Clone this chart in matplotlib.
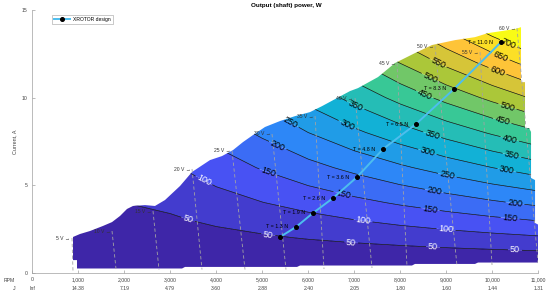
import numpy as np
import matplotlib
matplotlib.use("Agg")
import matplotlib.pyplot as plt
from matplotlib.colors import LinearSegmentedColormap
from matplotlib.patches import Polygon
from matplotlib.transforms import blended_transform_factory

plt.rcParams['font.family'] = ['Liberation Sans', 'DejaVu Sans']

# ---------------- data ----------------
rpm_grid = [0, 1000, 2000, 3000, 4000, 5000, 6000, 7000, 8000, 9000, 10000, 11000]
current_grid = [0, 1, 2, 3, 4, 6, 8, 10, 12, 14, 16]
power_table = [
    [0, -2, -5, -7, -9, -11, -13, -15, -17, -19, -21, -23],
    [0, 4, 8, 10, 13, 17, 20, 23, 26, 29, 32, 35],
    [0, 11, 22, 27, 36, 44, 53, 61, 69, 78, 86, 94],
    [0, 18, 36, 44, 58, 72, 85, 99, 113, 126, 139, 152],
    [0, 25, 50, 60, 80, 99, 118, 137, 156, 174, 193, 211],
    [0, 38, 76, 94, 124, 154, 184, 213, 242, 271, 300, 328],
    [0, 50, 100, 127, 169, 209, 250, 290, 329, 368, 406, 444],
    [0, 62, 124, 161, 213, 265, 316, 366, 416, 465, 513, 561],
    [0, 74, 148, 194, 257, 320, 381, 442, 502, 562, 620, 678],
    [0, 86, 172, 228, 302, 375, 447, 518, 589, 658, 727, 795],
    [0, 98, 196, 261, 346, 430, 513, 595, 675, 755, 834, 912],
]
power_levels = [50, 100, 150, 200, 250, 300, 350, 400, 450, 500, 550, 600, 650, 700]

envelope_rpm = [972, 972, 885, 885, 1037, 1254, 1537, 1733, 1907, 2059, 2189, 2450, 2667,
                2885, 3211, 3472, 3863, 4124, 4363, 4581, 4798, 5059, 5385, 5711, 6037,
                6298, 6580, 6906, 7080, 7515, 7884, 8319, 8689, 9189, 9624, 9906, 10210,
                10493, 10624, 10624, 10711, 10711, 10798, 10842, 10842, 10929, 10929,
                11016, 11016, 9689, 9624, 8319, 8254, 5820, 5755, 3320, 3255]
envelope_current = [0.24, 0.72, 0.72, 2.04, 2.21, 2.38, 2.67, 2.89, 3.24, 3.64, 3.81, 3.86, 3.81,
                    4.15, 4.95, 5.75, 6.43, 6.66, 7.00, 7.46, 7.86, 8.32, 8.66, 8.94, 9.17,
                    9.51, 9.91, 10.37, 10.54, 11.17, 11.97, 12.54, 13.00, 13.28, 13.45, 13.68, 13.80,
                    13.91, 14.02, 10.88, 10.88, 8.26, 8.26, 8.04, 5.41, 5.29, 2.84,
                    2.72, 0.58, 0.58, 0.50, 0.50, 0.41, 0.41, 0.33, 0.33, 0.24]

volt_names = ['5 V', '10 V', '15 V', '20 V', '25 V', '30 V', '35 V', '40 V', '45 V', '50 V', '55 V', '60 V']
volt_top_rpm = [863, 1733, 2624, 3472, 4342, 5211, 6146, 7016, 7929, 8755, 9733, 10537]
volt_top_current = [1.98, 2.38, 3.52, 5.92, 6.95, 7.92, 8.94, 9.97, 11.97, 12.94, 12.60, 13.97]
volt_bot_rpm = [885, 1820, 2754, 3689, 4624, 5515, 6341, 7385, 8146, 9233, 9994, 10994]
volt_bot_current = [0.04, 0.21, 0.18, 0.18, 0.18, 0.18, 0.21, 0.27, 0.33, 0.38, 0.44, 0.55]

design_rpm = [5385, 5733, 6103, 6537, 7059, 7624, 8342, 9168, 10190]
design_current = [2.04, 2.61, 3.41, 4.26, 5.46, 7.06, 8.49, 10.49, 13.17]
design_thrust = ['', '1.3', '1.9', '2.6', '3.6', '4.8', '6.5', '8.3', '11.0']

rpm_ticks = [0, 1000, 2000, 3000, 4000, 5000, 6000, 7000, 8000, 9000, 10000, 11000]
rpm_tick_labels = ['0', '1,000', '2,000', '3,000', '4,000', '5,000', '6,000', '7,000',
                   '8,000', '9,000', '10,000', '11,000']
j_labels = ['Inf', '14.38', '7.19', '4.79', '3.60', '2.88', '2.40', '2.05', '1.80', '1.60', '1.44', '1.31']
current_ticks = [0, 5, 10, 15]

# label anchor spots (where MATLAB put contour labels)
white_label_spots = [(3363, 2.88), (5124, 2.04), (6929, 1.64), (8711, 1.41), (10493, 1.30),
                     (3711, 5.18), (7189, 2.90), (8993, 2.44)]
black_label_spots = [(5124, 5.69), (6733, 4.32), (8646, 3.58), (10385, 3.07),
                     (5320, 7.18), (8733, 4.61), (10493, 3.98),
                     (5559, 8.32), (9015, 5.46),
                     (6841, 8.43), (8581, 6.83), (10319, 5.86),
                     (7015, 9.46), (8689, 7.86), (10428, 6.72),
                     (10385, 7.69),
                     (8537, 10.2), (10210, 8.60),
                     (8646, 11.11), (10319, 9.40),
                     (8820, 11.97), (10102, 11.45), (10167, 12.25), (10385, 13.28)]

# ---------------- style ----------------
parula_anchors = [(0.2422, 0.1504, 0.6603), (0.2810, 0.3228, 0.9571), (0.1786, 0.5289, 0.9682),
                  (0.0689, 0.6948, 0.8394), (0.2161, 0.7843, 0.5923), (0.6720, 0.7793, 0.2227),
                  (0.9970, 0.7659, 0.2199), (0.9769, 0.9839, 0.0805)]
parula = LinearSegmentedColormap.from_list('parula', parula_anchors)
nb = len(power_levels) + 1
band_colors = [parula(i / (nb - 1)) for i in range(nb)]

W, H = 550, 299
fig = plt.figure(figsize=(5.5, 2.99), dpi=100)
x0, x1 = 32.3, 538.3
y0, y1 = 272.7, 10.0
ax = fig.add_axes([x0 / W, 1 - y0 / H, (x1 - x0) / W, (y0 - y1) / H])
ax.set_xlim(0, 11000)
ax.set_ylim(0, 15)

R, I = np.meshgrid(rpm_grid, current_grid)
P = np.array(power_table, dtype=float)

env = Polygon(np.column_stack([envelope_rpm, envelope_current]), closed=True,
              facecolor='none', edgecolor='none', transform=ax.transData)
ax.add_patch(env)

fill_levels = [-1000] + power_levels + [5000]
cf = ax.contourf(R, I, P, levels=fill_levels, colors=band_colors, antialiased=True)
cf.set_clip_path(env)

cl_w = ax.contour(R, I, P, levels=power_levels[:2], colors='k', linewidths=0.45)
cl_k = ax.contour(R, I, P, levels=power_levels[2:], colors='k', linewidths=0.45)
ax.clabel(cl_w, manual=white_label_spots, inline=True, fmt='%d', fontsize=6.5,
          colors='white', inline_spacing=2)
ax.clabel(cl_k, manual=black_label_spots, inline=True, fmt='%d', fontsize=6.5,
          colors='k', inline_spacing=2)
cl_w.set_clip_path(env)
cl_k.set_clip_path(env)

# voltage lines
for name, tr, tc, br, bc in zip(volt_names, volt_top_rpm, volt_top_current, volt_bot_rpm, volt_bot_current):
    ax.plot([tr, br], [tc, bc], color='#a3a3a3', lw=0.6, ls=(0, (4, 3)), zorder=3)
    ax.annotate(name + ' \u2192', (tr, tc), xytext=(-1.2, 0), textcoords='offset points',
                ha='right', va='center', fontsize=3.6, color='#333333', zorder=6)

# design line
ax.plot(design_rpm, design_current, '-', color='#4DBEEE', lw=1.4, marker='o', ms=2.6,
        mfc='k', mec='k', zorder=5, label='XROTOR design')
for r, c, t in zip(design_rpm, design_current, design_thrust):
    if t:
        ax.annotate('T = ' + t + ' N', (r, c), xytext=(-5.5, 0), textcoords='offset points',
                    ha='right', va='center', fontsize=3.9, color='k', zorder=6)

# axes styling
for s in ['top', 'right']:
    ax.spines[s].set_visible(False)
for s in ['left', 'bottom']:
    ax.spines[s].set_color('#a0a0a0')
    ax.spines[s].set_linewidth(0.5)
ax.set_xticks(rpm_ticks)
ax.set_xticklabels(rpm_tick_labels)
ax.set_yticks(current_ticks)
ax.tick_params(direction='in', length=2, width=0.5, colors='#a0a0a0', labelcolor='#444444',
               labelsize=3.7)
ax.tick_params(axis='x', pad=3)
ax.tick_params(axis='y', pad=3.3)
ax.set_ylabel('Current, A', fontsize=3.9, color='#444444')
ax.yaxis.set_label_coords(-(x0 - 17) / (x1 - x0), 0.5)

trans = blended_transform_factory(ax.transData, ax.transAxes)
for r, j in zip(rpm_ticks, j_labels):
    ax.text(r, -(289 - y0) / (y0 - y1), j, transform=trans, ha='center', va='center',
            fontsize=3.7, color='#444444', clip_on=False)
fig.text(9.3 / W, 1 - 280 / H, 'RPM', ha='center', va='center', fontsize=3.7, color='#444444')
fig.text(14.3 / W, 1 - 289 / H, 'J', ha='center', va='center', fontsize=3.7, color='#444444')

fig.text(286 / W, 1 - 5 / H, 'Output (shaft) power, W', ha='center', va='center',
         fontsize=4.5, fontweight='bold', color='k')

leg = ax.legend(loc='upper left', bbox_to_anchor=((52 - x0) / (x1 - x0), (y0 - 14.5) / (y0 - y1)),
                fontsize=3.65, frameon=True, fancybox=False, edgecolor='#a0a0a0', framealpha=1,
                borderpad=0.4, handlelength=3.2, handletextpad=0.5, borderaxespad=0, numpoints=1)
leg.get_frame().set_linewidth(0.4)

fig.savefig('out.png', dpi=100)
